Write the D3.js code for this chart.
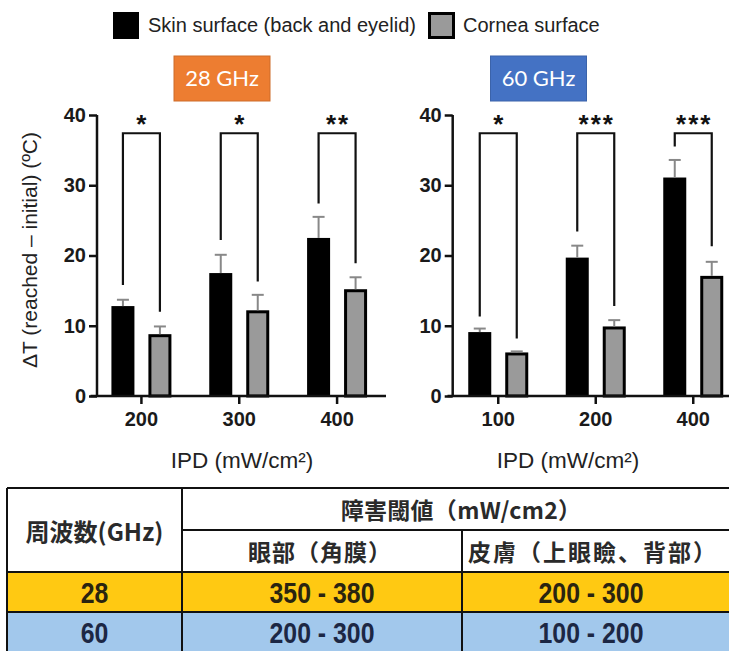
<!DOCTYPE html>
<html><head><meta charset="utf-8">
<script src="https://cdn.jsdelivr.net/npm/d3@7/dist/d3.min.js"></script>
<style>
html,body{margin:0;padding:0;background:#fff;}
svg{display:block;}
</style></head>
<body>
<svg id="c" width="729" height="651"></svg>
<script>
// ---------- data ----------
const seriesNames = ["Skin surface (back and eyelid)", "Cornea surface"];
const categories28 = ["200", "300", "400"];
const skin28 = [12.8, 17.5, 22.5];
const skin28Err = [0.9, 2.6, 3.0];
const cornea28 = [8.8, 12.2, 15.2];
const cornea28Err = [1.1, 2.2, 1.7];
const sig28 = ["*", "*", "**"];
const bracketSkin28 = [15.8, 22.2, 27.4];
const bracketCornea28 = [12.0, 16.3, 18.9];

const categories60 = ["100", "200", "400"];
const skin60 = [9.1, 19.7, 31.1];
const skin60Err = [0.5, 1.7, 2.5];
const cornea60 = [6.2, 9.9, 17.1];
const cornea60Err = [0.15, 0.9, 2.0];
const sig60 = ["*", "***", "***"];
const bracketSkin60 = [11.3, 23.4, 35.5];
const bracketCornea60 = [8.2, 12.8, 21.3];

const bracketTop = 37.4;
const yTicks = [0, 10, 20, 30, 40];
const panelLabels = ["28 GHz", "60 GHz"];
const xTitle = "IPD (mW/cm²)";
const yTitle = "ΔT (reached – initial) (ºC)";

const tableHeader1 = ["周波数(GHz)", "障害閾値（mW/cm2）"];
const tableHeader2 = ["眼部（角膜）", "皮膚（上眼瞼、背部）"];
const tableFreq = ["28", "60"];
const tableCornea = ["350 - 380", "200 - 300"];
const tableSkin = ["200 - 300", "100 - 200"];

// ---------- drawing ----------
const svg = d3.select("#c");
const SANS = "'Liberation Sans', Arial, sans-serif";
const y = d3.scaleLinear().domain([0, 40]).range([396, 115]);

function panel(cats, skin, skinErr, cor, corErr, sig, bS, bC, x0, x1, axisX, label, labelColor, boxX, titleX) {
  const x = d3.scaleBand().domain(cats).range([x0, x1]).paddingInner(0).paddingOuter(0);
  const inner = d3.scaleBand().domain(["skin", "cornea"]).range([-30, 30]).paddingInner(0.378);
  const g = svg.append("g");
  const cx = c => x(c) + x.bandwidth() / 2;
  const bw = inner.bandwidth();

  cats.forEach((c, i) => {
    const xs = cx(c) + inner("skin");
    g.append("rect").attr("x", xs).attr("y", y(skin[i])).attr("width", bw)
      .attr("height", y(0) - y(skin[i])).attr("fill", "#000");
    const xc = cx(c) + inner("cornea");
    g.append("rect").attr("x", xc + 1.5).attr("y", y(cor[i]) + 1.5).attr("width", bw - 3)
      .attr("height", y(0) - y(cor[i]) - 1.5).attr("fill", "#9a9a9a")
      .attr("stroke", "#000").attr("stroke-width", 3);
    [[xs + bw / 2, skin[i], skinErr[i]], [xc + bw / 2, cor[i], corErr[i]]].forEach(([ex, v, e]) => {
      g.append("line").attr("x1", ex).attr("x2", ex).attr("y1", y(v)).attr("y2", y(v + e))
        .attr("stroke", "#888").attr("stroke-width", 2);
      g.append("line").attr("x1", ex - 6).attr("x2", ex + 6).attr("y1", y(v + e)).attr("y2", y(v + e))
        .attr("stroke", "#888").attr("stroke-width", 2);
    });
    const lx = xs + bw / 2, rx = xc + bw / 2;
    g.append("path").attr("d", `M${lx},${y(bS[i])}V${y(bracketTop)}H${rx}V${y(bC[i])}`)
      .attr("fill", "none").attr("stroke", "#111").attr("stroke-width", 2.2);
    g.append("text").attr("x", (lx + rx) / 2 + 1).attr("y", 133).attr("text-anchor", "middle")
      .attr("font-family", SANS).attr("font-weight", "bold").attr("font-size", 26)
      .attr("letter-spacing", 2).attr("fill", "#111").text(sig[i]);
  });

  const ax = g.append("g").attr("transform", `translate(0,${y(0)})`)
    .call(d3.axisBottom(x).tickSize(8).tickPadding(8));
  ax.select(".domain").attr("d", `M${x0 - 2},0H${x1}`).attr("stroke", "#111").attr("stroke-width", 2.5);
  ax.selectAll(".tick line").attr("stroke", "#111").attr("stroke-width", 2.5);
  ax.selectAll(".tick text").attr("font-family", SANS).attr("font-weight", "bold")
    .attr("font-size", 20).attr("fill", "#1a1a1a").attr("dy", "0.71em");

  const ay = g.append("g").attr("transform", `translate(${axisX},0)`)
    .call(d3.axisLeft(y).tickValues(yTicks).tickSize(8).tickPadding(3));
  ay.select(".domain").attr("d", `M0,${y(40)}V${y(0)}`).attr("stroke", "#111").attr("stroke-width", 2.5);
  ay.selectAll(".tick line").attr("stroke", "#111").attr("stroke-width", 2.5);
  ay.selectAll(".tick text").attr("font-family", SANS).attr("font-weight", "bold")
    .attr("font-size", 20).attr("fill", "#1a1a1a");

  g.append("text").attr("x", titleX).attr("y", 468).attr("text-anchor", "middle")
    .attr("font-family", SANS).attr("font-size", 22.5).attr("fill", "#222").text(xTitle);

  g.append("rect").attr("x", boxX).attr("y", 56).attr("width", 96).attr("height", 45)
    .attr("fill", labelColor).attr("stroke", d3.color(labelColor).darker(0.4)).attr("stroke-width", 1);
  g.append("text").attr("x", boxX + 48).attr("y", 86).attr("text-anchor", "middle")
    .attr("font-family", "Lato, 'Open Sans', sans-serif").attr("font-size", 22).attr("fill", "#fff")
    .text(label);
}

panel(categories28, skin28, skin28Err, cornea28, cornea28Err, sig28, bracketSkin28, bracketCornea28,
      92.5, 386, 97, panelLabels[0], "#ED7D31", 174, 242);
panel(categories60, skin60, skin60Err, cornea60, cornea60Err, sig60, bracketSkin60, bracketCornea60,
      449.5, 742, 452.7, panelLabels[1], "#4472C4", 490.5, 568);

svg.append("text").attr("transform", "translate(37,250) rotate(-90)").attr("text-anchor", "middle")
  .attr("font-family", SANS).attr("font-size", 21).attr("fill", "#222").text(yTitle);

// legend
svg.append("rect").attr("x", 113).attr("y", 12).attr("width", 26).attr("height", 27).attr("fill", "#000");
svg.append("text").attr("x", 148).attr("y", 32).attr("font-family", SANS).attr("font-size", 20)
  .attr("fill", "#222").text(seriesNames[0]);
svg.append("rect").attr("x", 429.5).attr("y", 13.5).attr("width", 24).attr("height", 24)
  .attr("fill", "#9a9a9a").attr("stroke", "#000").attr("stroke-width", 3);
svg.append("text").attr("x", 463).attr("y", 32).attr("font-family", SANS).attr("font-size", 20)
  .attr("fill", "#222").text(seriesNames[1]);

// ---------- table ----------
const T = svg.append("g");
const colX = [7, 182, 462, 745];
const rowY = [488, 530, 572, 612, 660];
const rowFill = ["#FFC912", "#A2C8EC"];
const rowText = ["#2a2410", "#1c2744"];
const CJK = "'Noto Sans CJK JP', 'Noto Sans', sans-serif";

T.append("rect").attr("x", colX[0]).attr("y", rowY[0]).attr("width", colX[3] - colX[0])
  .attr("height", rowY[2] - rowY[0]).attr("fill", "#fff");
tableFreq.forEach((f, i) => {
  T.append("rect").attr("x", colX[0]).attr("y", rowY[2 + i]).attr("width", colX[3] - colX[0])
    .attr("height", rowY[3 + i] - rowY[2 + i]).attr("fill", rowFill[i]);
});
const L = (x1, y1, x2, y2) => T.append("line").attr("x1", x1).attr("y1", y1).attr("x2", x2).attr("y2", y2)
  .attr("stroke", "#111").attr("stroke-width", 2);
L(colX[0], rowY[0], colX[3], rowY[0]);
L(colX[1], rowY[1], colX[3], rowY[1]);
L(colX[0], rowY[2], colX[3], rowY[2]);
L(colX[0], rowY[3], colX[3], rowY[3]);
L(colX[0], rowY[0], colX[0], rowY[4]);
L(colX[1], rowY[0], colX[1], rowY[4]);
L(colX[2], rowY[1], colX[2], rowY[4]);

const txt = (x, yy, s, font, size, fill) => T.append("text").attr("x", x).attr("y", yy)
  .attr("text-anchor", "middle").attr("dominant-baseline", "central")
  .attr("font-family", font).attr("font-weight", "bold").attr("font-size", size).attr("fill", fill).text(s);
const num = (x, yy, s, fill) => T.append("text")
  .attr("transform", `translate(${x},${yy}) scale(0.92,1.1)`)
  .attr("text-anchor", "middle").attr("dominant-baseline", "central")
  .attr("font-family", SANS).attr("font-weight", "bold").attr("font-size", 27).attr("fill", fill).text(s);

txt((colX[0] + colX[1]) / 2, (rowY[0] + rowY[2]) / 2, tableHeader1[0], CJK, 24, "#2a2a2a");
txt(461, (rowY[0] + rowY[1]) / 2, tableHeader1[1], CJK, 23, "#2a2a2a").attr("letter-spacing", 0.3);
txt(320, (rowY[1] + rowY[2]) / 2, tableHeader2[0], CJK, 23, "#2a2a2a").attr("letter-spacing", 1);
txt(593, (rowY[1] + rowY[2]) / 2, tableHeader2[1], CJK, 23, "#2a2a2a").attr("letter-spacing", 2);
tableFreq.forEach((f, i) => {
  const cy = (rowY[2 + i] + Math.min(rowY[3 + i], 651)) / 2 + 1;
  num((colX[0] + colX[1]) / 2, cy, f, rowText[i]);
  num(322, cy, tableCornea[i], rowText[i]);
  num(591, cy, tableSkin[i], rowText[i]);
});
</script>
</body></html>
